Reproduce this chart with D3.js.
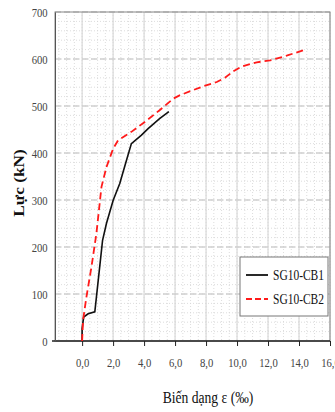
<!DOCTYPE html>
<html lang="en">
<head>
    <meta charset="UTF-8">
    <title>Lực - Biến dạng</title>
    <style>
        body { margin: 0; background: #fff; }
        text { font-family: "Liberation Serif", "DejaVu Serif", serif; }
    </style>
</head>
<body>
    <script src="https://d3js.org/d3.v7.min.js"></script>
    <script type="text/javascript">
        // chart size
        var width = 335;
        var height = 412;

        // tick values / labels
        var xTicks = [0, 2, 4, 6, 8, 10, 12, 14, 16];
        var yTicks = [0, 100, 200, 300, 400, 500, 600, 700];

        // SG10-CB1 (black solid)
        var cb1Strain = [0, 0, 0.1, 0.39, 0.82, 1.32, 1.57, 2.0, 2.43, 2.86, 3.18, 3.83, 4.26, 5.0, 5.6];
        var cb1Force  = [0, 26, 51, 58, 62, 214, 250, 299, 335, 384, 420, 438, 452, 473, 488];

        // SG10-CB2 (red dashed)
        var cb2Strain = [0, 0.06, 0.28, 0.6, 0.92, 1.25, 1.57, 2.0, 2.32, 3.18, 4.04, 5.0, 5.9, 6.32, 7.18, 7.83, 8.69, 9.22, 9.76, 10.3, 11.27, 12.13, 13.2, 14.4];
        var cb2Force  = [0, 44, 94, 157, 228, 328, 370, 409, 427, 445, 466, 491, 516, 523, 534, 542, 551, 560, 574, 584, 593, 597, 607, 620];

        var seriesNames = ["SG10-CB1", "SG10-CB2"];

        // plot area (note: "top" is a reserved window property, so use other names)
        var pLeft = 55, pRight = 330, pTop = 12, pBottom = 341;

        // the source picture has narrow, tall lettering
        var squeeze = 0.82;

        var x = d3.scaleLinear().domain([-1.75, 16]).range([pLeft, pRight]);
        var y = d3.scaleLinear().domain([0, 700]).range([pBottom, pTop]);

        var svg = d3.select("body").append("svg")
            .attr("width", width)
            .attr("height", height);

        // minor grid (dotted)
        var minorX = d3.range(-1.5, 16.01, 0.5);
        var minorY = d3.range(20, 700, 20);
        svg.append("g").selectAll("line").data(minorX).enter().append("line")
            .attr("x1", function(d) { return x(d); })
            .attr("x2", function(d) { return x(d); })
            .attr("y1", pTop).attr("y2", pBottom)
            .attr("stroke", "#d4d4d4").attr("stroke-width", 0.8)
            .attr("stroke-dasharray", "1,2");
        svg.append("g").selectAll("line").data(minorY).enter().append("line")
            .attr("x1", pLeft).attr("x2", pRight)
            .attr("y1", function(d) { return y(d); })
            .attr("y2", function(d) { return y(d); })
            .attr("stroke", "#d4d4d4").attr("stroke-width", 0.8)
            .attr("stroke-dasharray", "1,2");

        // major grid
        svg.append("g").selectAll("line").data(xTicks).enter().append("line")
            .attr("x1", function(d) { return x(d); })
            .attr("x2", function(d) { return x(d); })
            .attr("y1", pTop).attr("y2", pBottom)
            .attr("stroke", "#d8d8d8").attr("stroke-width", 1.2);
        svg.append("g").selectAll("line").data(yTicks.slice(1)).enter().append("line")
            .attr("x1", pLeft).attr("x2", pRight)
            .attr("y1", function(d) { return y(d); })
            .attr("y2", function(d) { return y(d); })
            .attr("stroke", "#d0d0d0").attr("stroke-width", 1.5)
            .attr("stroke-dasharray", "6,3");

        // frame
        svg.append("rect")
            .attr("x", pLeft).attr("y", pTop)
            .attr("width", pRight - pLeft).attr("height", pBottom - pTop)
            .attr("fill", "none").attr("stroke", "#888").attr("stroke-width", 1);

        // x axis
        var xAxis = d3.axisBottom(x).tickValues(xTicks).tickSize(5).tickPadding(12)
            .tickFormat(function(d) { return d3.format(".1f")(d).replace(".", ","); });
        var gx = svg.append("g").attr("transform", "translate(0," + pBottom + ")").call(xAxis);
        gx.select(".domain").attr("d", "M" + (pLeft - 3) + ",0H" + pRight).attr("stroke", "#222").attr("stroke-width", 1.3);
        gx.selectAll(".tick line").attr("stroke", "#222");
        gx.selectAll("text").attr("font-size", "13px").attr("fill", "#444")
            .attr("font-family", "'Liberation Serif', serif")
            .attr("transform", "scale(" + squeeze + ",1)");

        // y axis
        var yAxis = d3.axisLeft(y).tickValues(yTicks).tickSize(0).tickPadding(9);
        var gy = svg.append("g").attr("transform", "translate(" + pLeft + ",0)").call(yAxis);
        gy.select(".domain").attr("stroke", "#555");
        gy.selectAll("text").attr("font-size", "13px").attr("fill", "#444")
            .attr("font-family", "'Liberation Serif', serif")
            .attr("transform", "scale(" + squeeze + ",1)");

        // lines
        var line = d3.line()
            .x(function(d) { return x(d[0]); })
            .y(function(d) { return y(d[1]); });

        var cb1 = d3.zip(cb1Strain, cb1Force);
        var cb2 = d3.zip(cb2Strain, cb2Force);

        svg.append("path").datum(cb1)
            .attr("d", line).attr("fill", "none")
            .attr("stroke", "#111").attr("stroke-width", 1.6);
        svg.append("path").datum(cb2)
            .attr("d", line).attr("fill", "none")
            .attr("stroke", "#ff1a1a").attr("stroke-width", 1.8)
            .attr("stroke-dasharray", "7,4");

        // legend
        var lg = svg.append("g");
        lg.append("rect")
            .attr("x", 240).attr("y", 257).attr("width", 88).attr("height", 59)
            .attr("fill", "#fff").attr("stroke", "#777").attr("stroke-width", 1);
        var styles = [
            { color: "#111", dash: null },
            { color: "#ff1a1a", dash: "6,3" }
        ];
        seriesNames.forEach(function(name, i) {
            var ly = 275 + i * 24;
            lg.append("line")
                .attr("x1", 246).attr("x2", 268)
                .attr("y1", ly).attr("y2", ly)
                .attr("stroke", styles[i].color).attr("stroke-width", 1.8)
                .attr("stroke-dasharray", styles[i].dash);
            lg.append("text")
                .attr("transform", "translate(273," + (ly + 5) + ") scale(" + squeeze + ",1)")
                .attr("font-size", "14px").attr("fill", "#111")
                .text(name);
        });

        // axis titles
        svg.append("text")
            .attr("transform", "translate(24,183) rotate(-90) scale(1.08,0.9)")
            .attr("text-anchor", "middle")
            .attr("font-size", "16px").attr("font-weight", "bold").attr("fill", "#111")
            .text("Lực (kN)");
        svg.append("text")
            .attr("transform", "translate(208,403) scale(0.8,1)")
            .attr("text-anchor", "middle")
            .attr("font-size", "17px").attr("fill", "#111")
            .text("Biến dạng ε (‰)");
    </script>
</body>
</html>
